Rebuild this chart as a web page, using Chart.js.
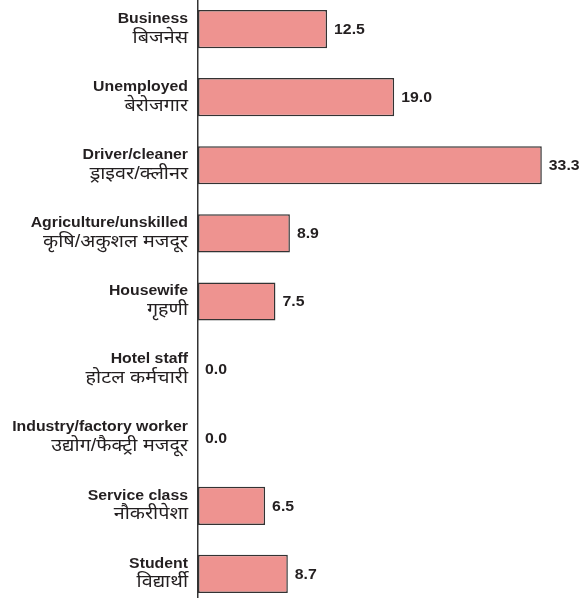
<!DOCTYPE html>
<html><head><meta charset="utf-8">
<script src="https://cdn.jsdelivr.net/npm/chart.js@4"></script>
<style>
html,body{margin:0;padding:0;background:#fff;overflow:hidden;width:581px;height:598px}
#wrap{position:absolute;left:0;top:-5px;width:581px;height:613px}
</style></head><body>
<div id="wrap"><canvas id="c" width="581" height="613"></canvas></div>
<script>
const categoriesEn = ["Business","Unemployed","Driver/cleaner","Agriculture/unskilled","Housewife","Hotel staff","Industry/factory worker","Service class","Student"];
const categoriesHi = ["बिजनेस","बेरोजगार","ड्राइवर/क्लीनर","कृषि/अकुशल मजदूर","गृहणी","होटल कर्मचारी","उद्योग/फैक्ट्री मजदूर","नौकरीपेशा","विद्यार्थी"];
const values = [12.5, 19.0, 33.3, 8.9, 7.5, 0.0, 0.0, 6.5, 8.7];

const FONT = '"Liberation Sans", Arial, Helvetica, "Noto Sans", sans-serif';
const SX = 1.13;
function stretchText(ctx, text, x, y, align) {
  ctx.save();
  ctx.translate(x, y);
  ctx.scale(SX, 1);
  ctx.textAlign = align;
  ctx.fillText(text, 0, 0);
  ctx.restore();
}
const labelPlugin = {
  id: 'labels',
  afterDatasetsDraw(chart) {
    const ctx = chart.ctx;
    const ys = chart.scales.y, xs = chart.scales.x;
    ctx.save();
    ctx.fillStyle = '#231f20';
    for (let i = 0; i < categoriesEn.length; i++) {
      const y = ys.getPixelForValue(i);
      ctx.textBaseline = 'alphabetic';
      ctx.font = 'bold 14px ' + FONT;
      stretchText(ctx, categoriesEn[i], 188, y - 6.3, 'right');
      ctx.font = '17.5px ' + FONT;
      stretchText(ctx, categoriesHi[i], 188, y + 13.5, 'right');
      ctx.textBaseline = 'middle';
      ctx.font = 'bold 14px ' + FONT;
      stretchText(ctx, values[i].toFixed(1), xs.getPixelForValue(values[i]) + 7, y + 1, 'left');
    }
    ctx.restore();
  }
};

new Chart(document.getElementById('c'), {
  type: 'bar',
  data: {
    labels: categoriesEn,
    datasets: [{
      data: values,
      backgroundColor: '#ee9390',
      borderColor: '#333333',
      borderWidth: c => (values[c.dataIndex] === 0 ? 0 : 1.5),
      borderSkipped: false,
      barPercentage: 0.56,
      categoryPercentage: 1
    }]
  },
  options: {
    indexAxis: 'y',
    responsive: false,
    devicePixelRatio: 1,
    animation: false,
    layout: { padding: { left: 0, right: 1, top: 0, bottom: 0 } },
    plugins: { legend: { display: false }, tooltip: { enabled: false } },
    scales: {
      x: { display: false, min: 0, max: 37 },
      y: {
        display: true,
        ticks: { display: false },
        grid: { display: true, drawOnChartArea: false, drawTicks: false, color: 'rgba(0,0,0,0)' },
        border: { display: true, color: '#333333', width: 1.5 },
        afterFit: s => { s.width = 198; }
      }
    }
  },
  plugins: [labelPlugin]
});
</script>
</body></html>
